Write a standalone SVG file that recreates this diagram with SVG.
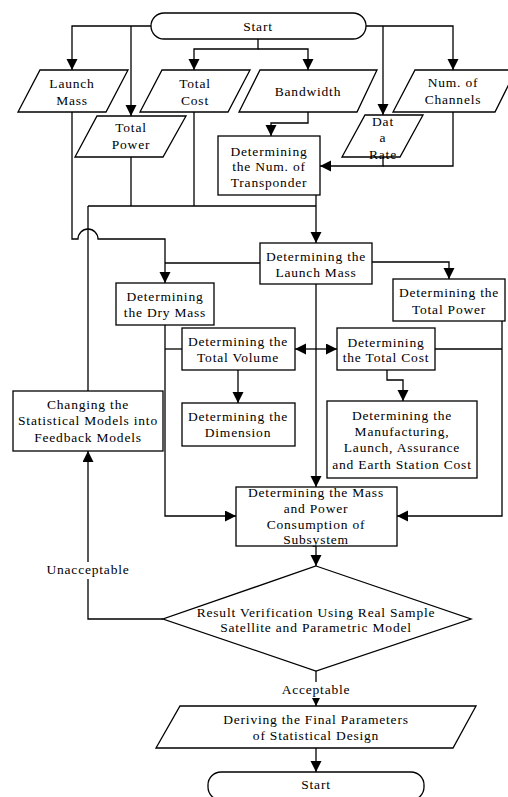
<svg xmlns="http://www.w3.org/2000/svg" width="508" height="797" viewBox="0 0 508 797">
<style>
text{font-family:"Liberation Serif","Times New Roman",serif;font-size:13.5px;fill:#000;text-anchor:middle;letter-spacing:0.8px}
.s{fill:#fff;stroke:#000;stroke-width:1.3}
.c{fill:none;stroke:#000;stroke-width:1.3}
</style>
<defs>
<marker id="ah" markerUnits="userSpaceOnUse" markerWidth="12" markerHeight="12" refX="11" refY="5.5" orient="auto">
<path d="M0,0 L11,5.5 L0,11 z" fill="#000"/>
</marker>
</defs>
<rect width="508" height="797" fill="#fff"/>
<g id="connectors">
<path class="c" d="M151,26 H72 V70" marker-end="url(#ah)"/>
<path class="c" d="M131,26 V116" marker-end="url(#ah)"/>
<path class="c" d="M258,39 V49 H194 V70" marker-end="url(#ah)"/>
<path class="c" d="M258,49 H308 V70" marker-end="url(#ah)"/>
<path class="c" d="M366,26 H453 V70" marker-end="url(#ah)"/>
<path class="c" d="M383,26 V115" marker-end="url(#ah)"/>
<path class="c" d="M308,112 V123 H271 V136" marker-end="url(#ah)"/>
<path class="c" d="M383,157 V166 H320" marker-end="url(#ah)"/>
<path class="c" d="M453,112 V166 H383"/>
<path class="c" d="M316,195 V243" marker-end="url(#ah)"/>
<path class="c" d="M131,157 V206"/>
<path class="c" d="M194,112 V206"/>
<path class="c" d="M88,206 H316"/>
<path class="c" d="M88,391 V206"/>
<path class="c" d="M72,112 V239 H78 A10,10 0 0 1 98,239 H165 V283" marker-end="url(#ah)"/>
<path class="c" d="M260,263 H165"/>
<path class="c" d="M372,262 H449 V279" marker-end="url(#ah)"/>
<path class="c" d="M316,284 V487" marker-end="url(#ah)"/>
<path class="c" d="M316,349 H295" marker-end="url(#ah)"/>
<path class="c" d="M316,349 H337" marker-end="url(#ah)"/>
<path class="c" d="M165,325 V516 H236" marker-end="url(#ah)"/>
<path class="c" d="M165,349 H182"/>
<path class="c" d="M238,370 V403" marker-end="url(#ah)"/>
<path class="c" d="M387,370 V380 H403 V401" marker-end="url(#ah)"/>
<path class="c" d="M435,349 H502"/>
<path class="c" d="M502,321 V516 H397" marker-end="url(#ah)"/>
<path class="c" d="M316,546 V566" marker-end="url(#ah)"/>
<path class="c" d="M163,619 H88 V451" marker-end="url(#ah)"/>
<path class="c" d="M316,671 V706" marker-end="url(#ah)"/>
<path class="c" d="M316,748 V772" marker-end="url(#ah)"/>
<rect x="44" y="562" width="88" height="17" fill="#fff"/>
<text x="88" y="574">Unacceptable</text>
<rect x="280" y="682" width="72" height="16" fill="#fff"/>
<text x="316" y="694">Acceptable</text>
</g>
<g id="start">
<rect class="s" x="151" y="13" width="215" height="26" rx="13" ry="13"/>
<text x="258" y="31">Start</text>
</g>
<g id="launch-mass">
<polygon class="s" points="40,70 128,70 106,112 18,112"/>
<text x="72" y="88">Launch</text>
<text x="72" y="105">Mass</text>
</g>
<g id="total-cost">
<polygon class="s" points="162,70 250,70 228,112 140,112"/>
<text x="195" y="88">Total</text>
<text x="195" y="105">Cost</text>
</g>
<g id="total-power">
<polygon class="s" points="97,116 186,116 163,157 75,157"/>
<text x="131" y="132">Total</text>
<text x="131" y="149">Power</text>
</g>
<g id="bandwidth">
<polygon class="s" points="260,70 377,70 357,112 239,112"/>
<text x="308" y="96">Bandwidth</text>
</g>
<g id="num-channels">
<polygon class="s" points="415,70 516,70 495,112 393,112"/>
<text x="453" y="87">Num. of</text>
<text x="453" y="104">Channels</text>
</g>
<g id="data-rate">
<polygon class="s" points="365,115 423,115 400,157 342,157"/>
<text x="383" y="126">Dat</text>
<text x="383" y="142">a</text>
<text x="383" y="159">Rate</text>
</g>
<g id="transponder">
<rect class="s" x="218" y="136" width="102" height="59"/>
<text x="269" y="156">Determining</text>
<text x="269" y="171">the Num. of</text>
<text x="269" y="187">Transponder</text>
</g>
<g id="launch-mass-box">
<rect class="s" x="260" y="243" width="112" height="41"/>
<text x="316" y="261">Determining the</text>
<text x="316" y="277">Launch Mass</text>
</g>
<g id="total-power-box">
<rect class="s" x="393" y="279" width="112" height="42"/>
<text x="449" y="297">Determining the</text>
<text x="449" y="314">Total Power</text>
</g>
<g id="dry-mass">
<rect class="s" x="116" y="283" width="98" height="42"/>
<text x="165" y="301">Determining</text>
<text x="165" y="317">the Dry Mass</text>
</g>
<g id="total-volume">
<rect class="s" x="182" y="328" width="113" height="42"/>
<text x="238" y="346">Determining the</text>
<text x="238" y="362">Total Volume</text>
</g>
<g id="total-cost-box">
<rect class="s" x="337" y="328" width="98" height="42"/>
<text x="386" y="347">Determining</text>
<text x="386" y="362">the Total Cost</text>
</g>
<g id="dimension">
<rect class="s" x="182" y="403" width="113" height="43"/>
<text x="238" y="421">Determining the</text>
<text x="238" y="437">Dimension</text>
</g>
<g id="manufacturing">
<rect class="s" x="327" y="401" width="150" height="77"/>
<text x="402" y="420">Determining the</text>
<text x="402" y="436">Manufacturing,</text>
<text x="402" y="452">Launch, Assurance</text>
<text x="402" y="469">and Earth Station Cost</text>
</g>
<g id="changing">
<rect class="s" x="13" y="391" width="150" height="60"/>
<text x="88" y="409">Changing the</text>
<text x="88" y="425">Statistical Models into</text>
<text x="88" y="442">Feedback Models</text>
</g>
<g id="mass-power">
<rect class="s" x="236" y="487" width="161" height="59"/>
<text x="316" y="497">Determining the Mass</text>
<text x="316" y="513">and Power</text>
<text x="316" y="529">Consumption of</text>
<text x="316" y="544">Subsystem</text>
</g>
<g id="verification">
<polygon class="s" points="316,566 471,619 316,671 163,619"/>
<text x="316" y="617">Result Verification Using Real Sample</text>
<text x="316" y="632">Satellite and Parametric Model</text>
</g>
<g id="deriving">
<polygon class="s" points="180,706 476,706 453,748 156,748"/>
<text x="316" y="724">Deriving the Final Parameters</text>
<text x="316" y="740">of Statistical Design</text>
</g>
<g id="end">
<rect class="s" x="208" y="772" width="216" height="28" rx="13" ry="13"/>
<text x="316" y="789">Start</text>
</g>
</svg>
